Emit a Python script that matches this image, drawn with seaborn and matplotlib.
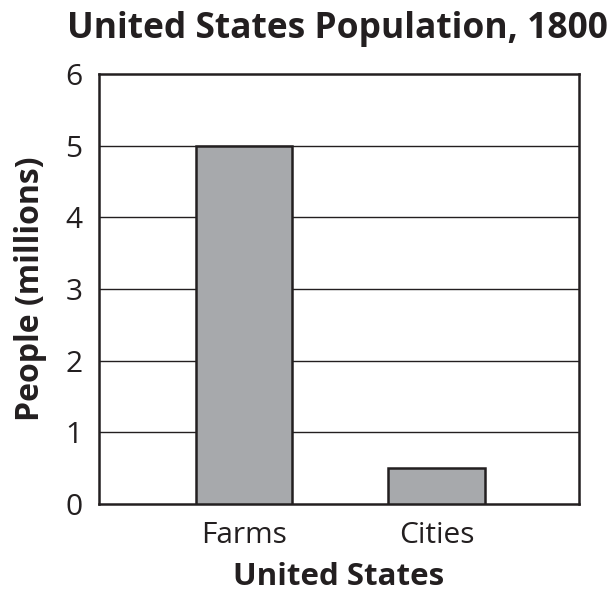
import matplotlib
matplotlib.use("Agg")
import matplotlib.pyplot as plt
import seaborn as sns
import pandas as pd

categories = ["Farms", "Cities"]
people_millions = [5.0, 0.5]
y_ticks = [0, 1, 2, 3, 4, 5, 6]

sns.set_theme(style="white")
plt.rcParams["font.family"] = ["Open Sans", "DejaVu Sans"]

df = pd.DataFrame({"place": categories, "people": people_millions})

fig = plt.figure(figsize=(6.14, 5.98), dpi=100)
ax = fig.add_axes([0.1612, 0.1572, 0.7818, 0.7191])

sns.barplot(data=df, x="place", y="people", color="#a7a9ac", width=0.5,
            edgecolor="#231f20", linewidth=1.8, saturation=1, ax=ax, zorder=3)

ax.set_ylim(0, 6)
ax.set_xlim(-0.753, 1.740)
ax.set_yticks(y_ticks)
ax.set_yticklabels([str(t) for t in y_ticks])
for t in y_ticks[1:-1]:
    ax.axhline(t, color="#231f20", linewidth=1.0, zorder=1)

for s in ax.spines.values():
    s.set_color("#231f20")
    s.set_linewidth(1.8)
    s.set_visible(True)

ax.tick_params(axis="both", length=0, labelsize=21.5, colors="#231f20", pad=12)
ax.set_xlabel("United States", fontsize=22.5, fontweight="bold", color="#231f20", labelpad=9)
ax.set_ylabel("People (millions)", fontsize=23, fontweight="bold", color="#231f20", labelpad=13)
ax.set_title("United States Population, 1800", fontsize=25.5, fontweight="bold",
             color="#231f20", pad=26, x=0.497)

fig.savefig("out.png", dpi=100)
